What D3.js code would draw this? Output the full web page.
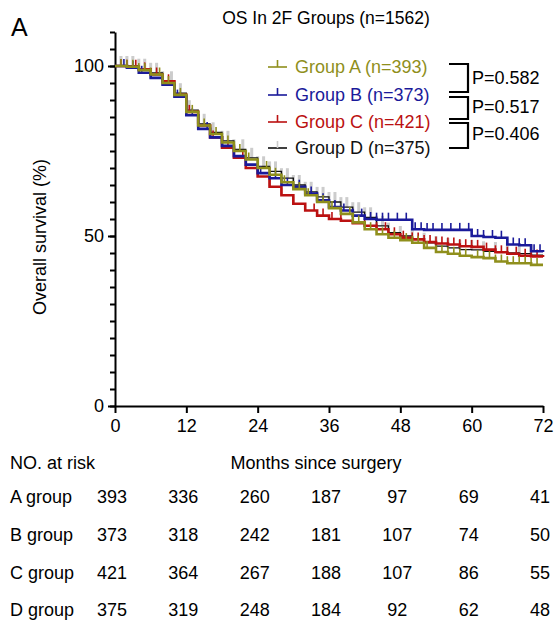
<!DOCTYPE html>
<html>
<head>
<meta charset="utf-8">
<script src="https://cdn.jsdelivr.net/npm/d3@7"></script>
<style>
  body { margin: 0; background: #fff; }
  text { font-family: "Liberation Sans", Arial, sans-serif; }
</style>
</head>
<body>
<div id="chart"></div>
<script>
  var months = [0, 2, 4, 6, 8, 10, 12, 14, 16, 18, 20, 22, 24, 26, 28, 30, 32, 34, 36,
    38, 40, 42, 44, 46, 48, 50, 52, 54, 56, 58, 60, 62, 64, 66, 68, 70, 72];

  // Survival (%) per group
  var survA = [100, 99.8, 98.8, 97.5, 95, 91.5, 86.5, 82.5, 80, 77.5, 75, 72.5, 70, 68, 65.8, 63.8, 62, 60, 58.2,
    56.5, 54, 52, 50.5, 49.5, 48.8, 48, 46.5, 45.3, 44.8, 44.2, 43.8, 43.5, 42.5, 42, 42, 41.5, 41.5];
  var survB = [100, 99.5, 98, 96.5, 94.5, 91, 85.5, 81.5, 79, 76.5, 73.5, 71, 68.5, 67, 65, 64.5, 62.5, 60.5, 58.5,
    57.5, 56, 55, 54.8, 54.8, 54.8, 52, 51.8, 51.8, 51.8, 51.8, 50, 49.7, 49.5, 47.5, 47.3, 45.5, 45.3];
  var survC = [100, 99.8, 99, 97.5, 95.5, 91.5, 86.5, 82.5, 79, 76, 73, 70, 67.5, 64.5, 62, 59.5, 57.5, 56, 55,
    54.5, 53.8, 53, 52, 50.5, 49.5, 49, 48.2, 47.8, 47.5, 47, 46.8, 46, 45.2, 44.8, 44.2, 44, 43.8];
  var survD = [100, 100, 99.2, 98, 95.5, 92, 87, 83, 80.5, 78, 75.5, 73, 70.5, 69, 67, 65, 63, 61.5, 60,
    58.5, 57, 55.5, 53, 51, 50, 49, 48, 47, 46.5, 46, 45.9, 45.5, 45.3, 45, 44.8, 44.4, 44.4];

  // Censoring times (months)
  var censA = [1, 2, 3, 4, 5, 6, 7.5, 9, 11, 13, 15, 17, 19, 21, 22.5, 24, 25.5, 27, 28.5, 30, 31, 32.5, 34, 35,
    36.5, 38, 39.5, 41, 43, 45, 47, 49, 50, 51, 52.5, 54, 55, 56, 57, 58, 59, 61, 62, 63, 64, 65, 66, 67, 68, 69, 70, 71];
  var censB = [1.5, 3, 4.5, 6, 8, 10.5, 13, 15.5, 18, 20, 22, 24.5, 27, 29, 31, 33, 35, 37, 38.5, 40, 41.5, 43, 44,
    45, 46, 47.5, 49, 50.5, 51.5, 52.5, 53.5, 55, 56.5, 58, 59.5, 61, 62, 63.5, 65, 66, 67, 68, 69, 70.5, 71.5];
  var censC = [1, 2, 3.5, 5, 7, 9, 12.5, 14, 16.5, 19, 21.5, 24, 26, 28, 30, 32, 33.5, 35, 36.5, 38, 40, 42, 44,
    45.5, 47, 48.5, 50, 51, 52, 53, 54, 55, 56, 57, 58, 59, 60, 61, 62.5, 64, 65, 66, 67.5, 69, 70, 71];
  var censD = [1, 2, 3, 4, 5, 6, 7, 8, 9.5, 11, 12.5, 14, 15, 16.5, 18, 19, 20, 21.5, 23, 24, 25, 26, 27, 28, 29,
    30, 31, 32, 33, 34, 35, 36, 37, 38, 39, 40, 41, 42, 43, 44, 45, 46, 48, 50, 52, 54, 56, 58, 60, 62, 64, 66, 68, 70];

  var groupNames = ["Group A (n=393)", "Group B (n=373)", "Group C (n=421)", "Group D (n=375)"];
  var pValues = ["P=0.582", "P=0.517", "P=0.406"];

  // Number at risk table
  var riskLabels = ["A group", "B group", "C group", "D group"];
  var riskTimes = [0, 12, 24, 36, 48, 60, 72];
  var riskA = [393, 336, 260, 187, 97, 69, 41];
  var riskB = [373, 318, 242, 181, 107, 74, 50];
  var riskC = [421, 364, 267, 188, 107, 86, 55];
  var riskD = [375, 319, 248, 184, 92, 62, 48];

  var xTicks = [0, 12, 24, 36, 48, 60, 72];
  var yTicks = [0, 50, 100];

  var width = 558;
  var height = 624;

  var groups = [
    { name: groupNames[0], surv: survA, cens: censA, color: "#8f8f1c", tick: "#8f8f1c", text: "#8f8f1c" },
    { name: groupNames[1], surv: survB, cens: censB, color: "#1a1a9a", tick: "#1a1a9a", text: "#1a1a9a" },
    { name: groupNames[2], surv: survC, cens: censC, color: "#bb1111", tick: "#bb1111", text: "#bb1111" },
    { name: groupNames[3], surv: survD, cens: censD, color: "#111111", tick: "#cccccc", text: "#111111" }
  ];
  var riskRows = [riskA, riskB, riskC, riskD];

  var svg = d3.select("#chart")
    .append("svg")
    .attr("width", width)
    .attr("height", height);

  var x = d3.scaleLinear().domain([0, 72]).range([115, 543]);
  var y = d3.scaleLinear().domain([0, 100]).range([406, 66]);

  // Panel letter and title
  svg.append("text").attr("x", 11).attr("y", 36)
    .attr("font-size", "25px").text("A");
  svg.append("text").attr("x", 326).attr("y", 24)
    .attr("text-anchor", "middle").attr("font-size", "17.5px")
    .text("OS In 2F Groups (n=1562)");

  // Y axis with minor ticks every 5
  var yMinor = svg.append("g")
    .attr("transform", "translate(" + x(0) + ",0)")
    .call(d3.axisLeft(y).tickValues(d3.range(0, 111, 5)).tickSize(5).tickFormat(""));
  yMinor.select(".domain").remove();
  yMinor.selectAll("line").attr("stroke-width", 2);

  var yAxis = svg.append("g")
    .attr("transform", "translate(" + x(0) + ",0)")
    .call(d3.axisLeft(y.copy().domain([0, 110]).range([406, 32])).tickValues(yTicks).tickSize(7).tickSizeOuter(0));
  yAxis.select(".domain").attr("stroke-width", 2);
  yAxis.selectAll("line").attr("stroke-width", 2);
  yAxis.selectAll("text").attr("font-size", "18px").attr("font-family", "Liberation Sans, Arial, sans-serif")
    .attr("fill", "#000").attr("dx", "-1px");

  var xAxis = svg.append("g")
    .attr("transform", "translate(0," + y(0) + ")")
    .call(d3.axisBottom(x).tickValues(xTicks).tickSize(7).tickSizeOuter(0));
  xAxis.select(".domain").attr("stroke-width", 2);
  xAxis.selectAll("line").attr("stroke-width", 2);
  xAxis.selectAll("text").attr("font-size", "18px").attr("font-family", "Liberation Sans, Arial, sans-serif")
    .attr("fill", "#000").attr("dy", "0.9em");

  svg.append("text")
    .attr("transform", "translate(46,237) rotate(-90)")
    .attr("text-anchor", "middle").attr("font-size", "18px")
    .text("Overall survival (%)");

  // Kaplan-Meier curves, D drawn first so it sits behind
  var line = d3.line()
    .x(function(d) { return x(d[0]); })
    .y(function(d) { return y(d[1]); })
    .curve(d3.curveStepAfter);

  function survAt(g, t) {
    var i = d3.bisectRight(months, t) - 1;
    return g.surv[Math.max(0, i)];
  }

  var drawOrder = [3, 2, 1, 0];
  drawOrder.forEach(function(k) {
    var g = groups[k];
    var pts = months.map(function(m, i) { return [m, g.surv[i]]; });
    var cg = svg.append("g");
    cg.selectAll("line")
      .data(g.cens)
      .enter()
      .append("line")
      .attr("x1", function(d) { return x(d); })
      .attr("x2", function(d) { return x(d); })
      .attr("y1", function(d) { return y(survAt(g, d)); })
      .attr("y2", function(d) { return y(survAt(g, d)) - (k === 3 ? 10 : 7); })
      .attr("stroke", g.tick)
      .attr("stroke-width", k === 3 ? 3 : 1.6);
    cg.append("path")
      .datum(pts)
      .attr("d", line)
      .attr("fill", "none")
      .attr("stroke", g.color)
      .attr("stroke-width", k === 3 ? 1.3 : 2.6);
  });

  // Legend
  var legY = [67, 95, 122, 148];
  var leg = svg.selectAll(".leg")
    .data(groups)
    .enter()
    .append("g")
    .attr("class", "leg")
    .attr("transform", function(d, i) { return "translate(0," + legY[i] + ")"; });
  leg.append("line").attr("x1", 268).attr("x2", 287).attr("y1", 0).attr("y2", 0)
    .attr("stroke", function(d) { return d.color; }).attr("stroke-width", 1.6);
  leg.append("line").attr("x1", 277.5).attr("x2", 277.5).attr("y1", 0).attr("y2", -7)
    .attr("stroke", function(d) { return d.tick; }).attr("stroke-width", 1.6);
  leg.append("text").attr("x", 295).attr("dy", "0.35em").attr("font-size", "18px")
    .attr("fill", function(d) { return d.text; })
    .text(function(d) { return d.name; });

  // P-value brackets between neighbouring legend rows
  var brackets = [[64, 92], [97, 119], [123, 148]];
  var pY = [78, 107, 134];
  brackets.forEach(function(b, i) {
    svg.append("path")
      .attr("d", "M449," + b[0] + "H468V" + b[1] + "H449")
      .attr("fill", "none").attr("stroke", "#000").attr("stroke-width", 2.2);
    svg.append("text").attr("x", 472).attr("y", pY[i]).attr("dy", "0.35em")
      .attr("font-size", "18px").text(pValues[i]);
  });

  // Number at risk
  svg.append("text").attr("x", 10).attr("y", 463).attr("dy", "0.35em")
    .attr("font-size", "18px").text("NO. at risk");
  svg.append("text").attr("x", 316).attr("y", 463).attr("dy", "0.35em")
    .attr("text-anchor", "middle").attr("font-size", "18px").text("Months since surgery");

  var rowY = [497, 535, 573, 610];
  riskRows.forEach(function(row, i) {
    svg.append("text").attr("x", 10).attr("y", rowY[i]).attr("dy", "0.35em")
      .attr("font-size", "18px").text(riskLabels[i]);
    svg.selectAll(".r" + i)
      .data(row)
      .enter()
      .append("text")
      .attr("class", "r" + i)
      .attr("x", function(d, j) { return x(riskTimes[j]) - 3; })
      .attr("y", rowY[i])
      .attr("dy", "0.35em")
      .attr("text-anchor", "middle")
      .attr("font-size", "18px")
      .text(function(d) { return d; });
  });
</script>
</body>
</html>
